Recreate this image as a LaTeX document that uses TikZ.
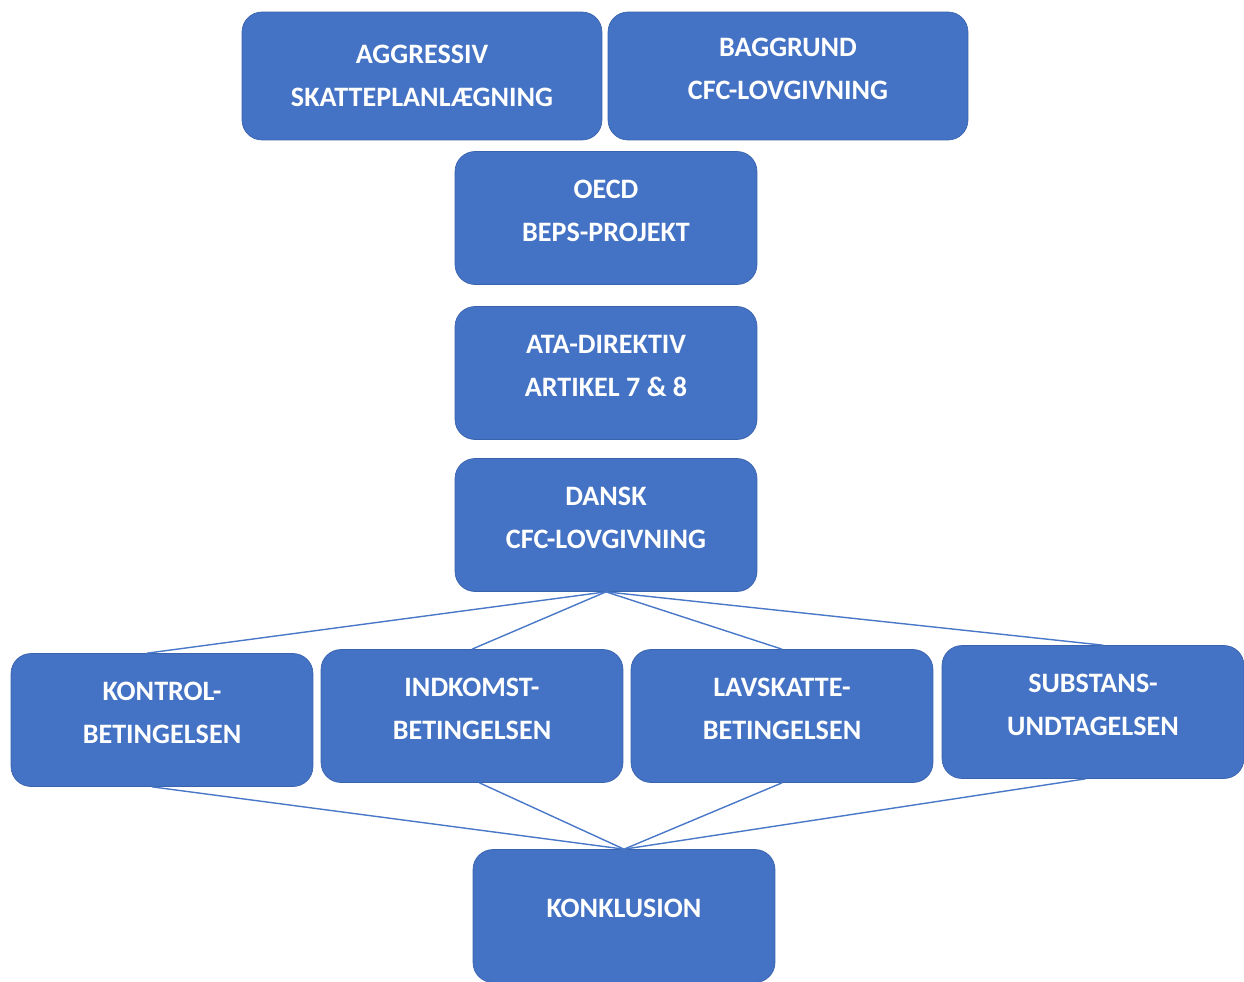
\documentclass[tikz,border=0pt]{standalone}
\usepackage{fontspec}
\setmainfont{Carlito}
\definecolor{boxblue}{HTML}{4472C4}
\definecolor{boxedge}{HTML}{3A63AD}
\definecolor{lineblue}{HTML}{4A78C8}
\tikzset{
  box/.style={draw=boxedge, fill=boxblue, rounded corners=0.4cm, text=white,
    align=center, inner sep=0pt, text depth=0.3cm,
    font=\fontsize{16}{24.5}\selectfont\bfseries},
  widebox/.style={box, minimum width=7.2cm, minimum height=2.56cm},
  midbox/.style={box, minimum width=6.04cm, minimum height=2.66cm}
}
\begin{document}
\begin{tikzpicture}[x=0.02cm, y=-0.02cm]
      \useasboundingbox (0,0) rectangle (1244,981);
      \draw
        (422,76) node[widebox, text depth=0pt] (aggr){AGGRESSIV\\SKATTEPLANLÆGNING}
        (788,76) node[widebox] (baggrund){BAGGRUND\\CFC-LOVGIVNING}
        (606,218) node[midbox] (oecd){OECD\\BEPS-PROJEKT}
        (606,373) node[midbox] (ata){ATA-DIREKTIV\\ARTIKEL 7 \& 8}
        (606,525) node[midbox] (dansk){DANSK\\CFC-LOVGIVNING}
        (162,720) node[midbox] (kontrol){KONTROL-\\BETINGELSEN}
        (472,716) node[midbox] (indkomst){INDKOMST-\\BETINGELSEN}
        (782,716) node[midbox] (lavskat){LAVSKATTE-\\BETINGELSEN}
        (1093,712) node[midbox] (substans){SUBSTANS-\\UNDTAGELSEN}
        (624,916) node[midbox] (konkl){KONKLUSION};
      \begin{scope}[-, draw=lineblue, line width=0.8pt]
        \draw (dansk.south) to ([xshift=-0.3cm]kontrol.north);
        \draw (dansk.south) to (indkomst.north);
        \draw (dansk.south) to (lavskat.north);
        \draw (dansk.south) to ([xshift=0.2cm]substans.north);
        \draw ([xshift=-0.2cm]kontrol.south) to (konkl.north);
        \draw ([xshift=0.15cm]indkomst.south) to (konkl.north);
        \draw (lavskat.south) to (konkl.north);
        \draw ([xshift=-0.15cm]substans.south) to (konkl.north);
      \end{scope}
    \end{tikzpicture}
\end{document}
